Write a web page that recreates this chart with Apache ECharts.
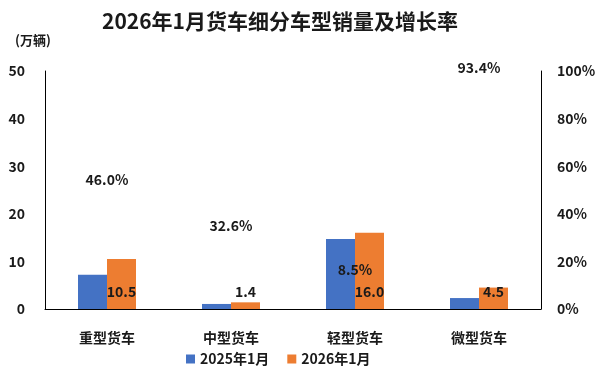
<!DOCTYPE html>
<html>
<head>
<meta charset="utf-8">
<script src="https://cdn.jsdelivr.net/npm/echarts@6/dist/echarts.min.js"></script>
<style>
  html, body { margin: 0; padding: 0; background: #fff; }
  #chart { width: 600px; height: 377px; }
</style>
</head>
<body>
<div id="chart"></div>
<script>
const categories = ['重型货车', '中型货车', '轻型货车', '微型货车'];
const sales2025 = [7.2, 1.06, 14.7, 2.3];
const sales2026 = [10.5, 1.4, 16.0, 4.5];
const growth = [46.0, 32.6, 8.5, 93.4];

const font = '"Noto Sans CJK SC", "Noto Sans", sans-serif';
const ink = '#1a1a1a';

const myChart = echarts.init(document.getElementById('chart'));

option = {
  backgroundColor: '#fff',
  textStyle: { fontFamily: font },
  title: [
    {
      text: '2026年1月货车细分车型销量及增长率',
      left: 97,
      top: 6,
      textStyle: { fontSize: 21, fontWeight: 'bold', color: ink, fontFamily: font }
    },
    {
      text: '(万辆)',
      left: 10,
      top: 29,
      textStyle: { fontSize: 13, fontWeight: 'bold', color: ink, fontFamily: font }
    }
  ],
  legend: {
    data: ['2025年1月', '2026年1月'],
    bottom: 6,
    left: 181,
    itemWidth: 9,
    itemHeight: 9,
    itemGap: 18,
    icon: 'rect',
    textStyle: { fontSize: 14, fontWeight: 'bold', color: ink, fontFamily: font }
  },
  grid: { left: 45, right: 59, top: 71, bottom: 68 },
  xAxis: {
    type: 'category',
    data: categories,
    axisLine: { lineStyle: { color: '#000', width: 1 } },
    axisTick: { show: false },
    axisLabel: { fontSize: 14, fontWeight: 'bold', color: ink, margin: 22, fontFamily: font }
  },
  yAxis: [
    {
      type: 'value',
      min: 0, max: 50, interval: 10,
      axisLine: { show: true, lineStyle: { color: '#000', width: 1 } },
      axisTick: { show: false },
      splitLine: { show: false },
      axisLabel: { fontSize: 14, fontWeight: 'bold', color: ink, margin: 20, fontFamily: font }
    },
    {
      type: 'value',
      min: 0, max: 100, interval: 20,
      position: 'right',
      axisLine: { show: true, lineStyle: { color: '#000', width: 1 } },
      axisTick: { show: false },
      splitLine: { show: false },
      axisLabel: { fontSize: 14, fontWeight: 'bold', color: ink, margin: 16, formatter: '{value}%', fontFamily: font }
    }
  ],
  series: [
    {
      name: '2025年1月',
      type: 'bar',
      data: sales2025,
      barWidth: 29,
      barGap: '0%',
      itemStyle: { color: '#4472C4' }
    },
    {
      name: '2026年1月',
      type: 'bar',
      data: sales2026,
      barWidth: 29,
      barGap: '0%',
      itemStyle: { color: '#ED7D31' },
      label: {
        show: true,
        position: 'insideBottom',
        distance: 10,
        fontSize: 14,
        fontWeight: 'bold',
        color: ink,
        fontFamily: font,
        formatter: p => p.value.toFixed(1)
      }
    },
    {
      name: '增长率',
      type: 'scatter',
      yAxisIndex: 1,
      // the 中型货车 label sits lower in the original
      data: growth.map((v, i) => i === 1 ? { value: v, label: { offset: [0, 14] } } : v),
      symbolSize: 1,
      itemStyle: { color: 'rgba(0,0,0,0)', opacity: 1 },
      emphasis: { disabled: true },
      label: {
        show: true,
        position: 'top',
        distance: 12,
        fontSize: 14,
        fontWeight: 'bold',
        color: ink,
        opacity: 1,
        fontFamily: font,
        formatter: p => p.value.toFixed(1) + '%'
      }
    }
  ]
};

option && myChart.setOption(option);
</script>
</body>
</html>
